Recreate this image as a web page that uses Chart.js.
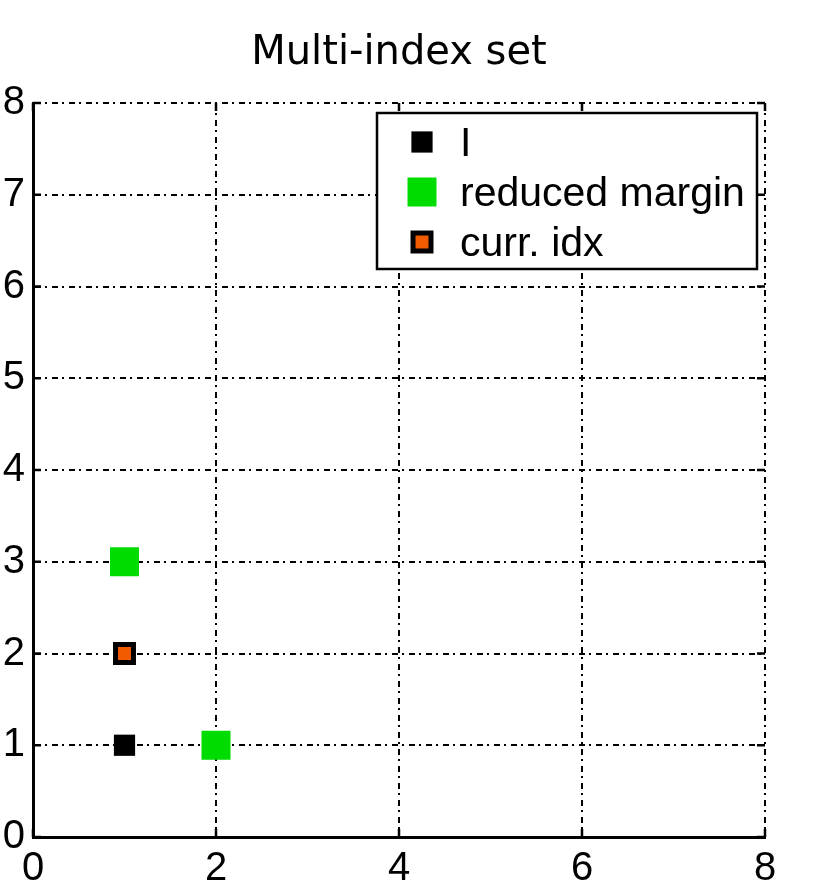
<!DOCTYPE html>
<html>
<head>
<meta charset="utf-8">
<script src="https://cdn.jsdelivr.net/npm/chart.js@4/dist/chart.umd.min.js"></script>
<style>
  html, body { margin: 0; padding: 0; background: #fff; }
  #wrap { width: 830px; height: 895px; }
</style>
</head>
<body>
<div id="wrap"><canvas id="chart" width="830" height="895"></canvas></div>
<script>
// Daten
const titleText = 'Multi-index set';
const seriesLabels = ['I', 'reduced margin', 'curr. idx'];
const indexX = [1];
const indexY = [1];
const marginX = [1, 2];
const marginY = [3, 1];
const currX = [1];
const currY = [2];
const xTickValues = [0, 2, 4, 6, 8];
const yTickValues = [0, 1, 2, 3, 4, 5, 6, 7, 8];

const tickFont = { family: 'Liberation Sans', size: 40 };
const gridDash = [6, 4, 2, 5];

function toPoints(xs, ys) {
  return xs.map((x, i) => ({ x: x, y: ys[i] }));
}

// kleine Striche nach innen an allen vier Seiten
const innerTicks = {
  id: 'innerTicks',
  afterDatasetsDraw(chart) {
    const { ctx, chartArea: a, scales } = chart;
    const len = 8;
    ctx.save();
    ctx.strokeStyle = '#000';
    ctx.lineWidth = 2.5;
    ctx.beginPath();
    xTickValues.forEach((v) => {
      const px = scales.x.getPixelForValue(v);
      ctx.moveTo(px, a.bottom); ctx.lineTo(px, a.bottom - len);
      ctx.moveTo(px, a.top); ctx.lineTo(px, a.top + len);
    });
    yTickValues.forEach((v) => {
      const py = scales.y.getPixelForValue(v);
      ctx.moveTo(a.left, py); ctx.lineTo(a.left + len, py);
      ctx.moveTo(a.right, py); ctx.lineTo(a.right - len, py);
    });
    ctx.stroke();
    ctx.restore();
  }
};

// Legende mit Rahmen oben rechts im Plotbereich
const boxLegend = {
  id: 'boxLegend',
  afterDraw(chart) {
    const { ctx, chartArea: a } = chart;
    const w = 380, h = 156;
    const left = a.right - 8 - w;
    const top = a.top + 10;
    ctx.save();
    ctx.fillStyle = '#fff';
    ctx.fillRect(left, top, w, h);
    ctx.strokeStyle = '#000';
    ctx.lineWidth = 2.5;
    ctx.strokeRect(left, top, w, h);

    ctx.font = '41px "Liberation Sans"';
    ctx.textBaseline = 'alphabetic';
    ctx.textAlign = 'left';
    chart.data.datasets.forEach((ds, i) => {
      const cy = top + 29 + i * 50;
      const cx = left + 45;
      const s = ds.pointRadius * Math.SQRT2;
      const bw = ds.pointBorderWidth || 0;
      if (bw > 0) {
        ctx.fillStyle = ds.pointBorderColor;
        ctx.fillRect(cx - (s + bw) / 2, cy - (s + bw) / 2, s + bw, s + bw);
        ctx.fillStyle = ds.pointBackgroundColor;
        ctx.fillRect(cx - (s - bw) / 2, cy - (s - bw) / 2, s - bw, s - bw);
      } else {
        ctx.fillStyle = ds.pointBackgroundColor;
        ctx.fillRect(cx - s / 2, cy - s / 2, s, s);
      }
      ctx.fillStyle = '#000';
      ctx.fillText(ds.label, left + 83, cy + 14);
    });
    ctx.restore();
  }
};

const ctx = document.getElementById('chart').getContext('2d');
new Chart(ctx, {
  type: 'scatter',
  data: {
    datasets: [
      {
        label: seriesLabels[0],
        data: toPoints(indexX, indexY),
        pointStyle: 'rect',
        pointRadius: 15,
        pointBackgroundColor: '#000000',
        pointBorderColor: '#000000',
        pointBorderWidth: 0
      },
      {
        label: seriesLabels[1],
        data: toPoints(marginX, marginY),
        pointStyle: 'rect',
        pointRadius: 20.5,
        pointBackgroundColor: '#00dc00',
        pointBorderColor: '#00dc00',
        pointBorderWidth: 0
      },
      {
        label: seriesLabels[2],
        data: toPoints(currX, currY),
        pointStyle: 'rect',
        pointRadius: 12.7,
        pointBackgroundColor: '#f25a00',
        pointBorderColor: '#000000',
        pointBorderWidth: 5
      }
    ]
  },
  options: {
    responsive: false,
    animation: false,
    devicePixelRatio: 1,
    layout: { padding: { left: 0, right: 65, top: 0, bottom: 0 } },
    plugins: {
      legend: { display: false },
      tooltip: { enabled: false },
      title: {
        display: true,
        text: titleText,
        fullSize: false,
        color: '#000',
        font: { family: 'DejaVu Sans', size: 40, weight: 'normal', lineHeight: 1.2 },
        padding: { top: 30, bottom: 25 }
      }
    },
    scales: {
      x: {
        type: 'linear',
        min: 0,
        max: 8,
        afterBuildTicks: (scale) => { scale.ticks = xTickValues.map((v) => ({ value: v })); },
        afterFit: (scale) => { scale.height = 58; },
        ticks: { color: '#000', font: tickFont, padding: 8 },
        grid: { color: '#000', lineWidth: 2, drawTicks: false },
        border: { display: true, color: '#000', width: 3, dash: gridDash }
      },
      y: {
        type: 'linear',
        min: 0,
        max: 8,
        afterBuildTicks: (scale) => { scale.ticks = yTickValues.map((v) => ({ value: v })); },
        afterFit: (scale) => { scale.width = 33; },
        ticks: { color: '#000', font: tickFont, padding: 8 },
        grid: { color: '#000', lineWidth: 2, drawTicks: false },
        border: { display: true, color: '#000', width: 3, dash: gridDash }
      }
    }
  },
  plugins: [innerTicks, boxLegend]
});
</script>
</body>
</html>
